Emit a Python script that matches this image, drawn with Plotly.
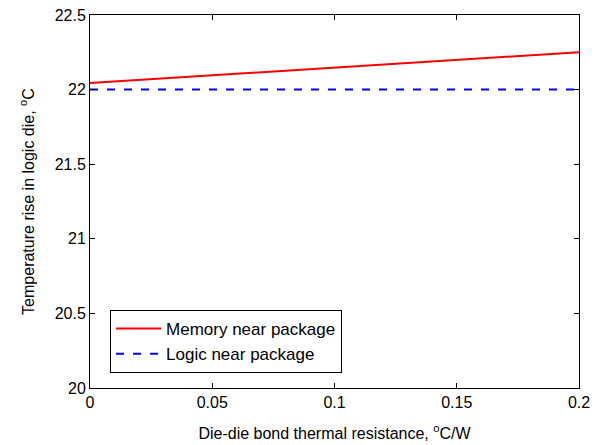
import plotly.graph_objects as go

x_vals = [0.0, 0.02, 0.04, 0.06, 0.08, 0.10, 0.12, 0.14, 0.16, 0.18, 0.20]
memory_near_package = [22.045, 22.065, 22.086, 22.106, 22.127, 22.147, 22.168, 22.188, 22.209, 22.229, 22.25]
logic_near_package = [22.0, 22.0, 22.0, 22.0, 22.0, 22.0, 22.0, 22.0, 22.0, 22.0, 22.0]
x_ticks = [0, 0.05, 0.1, 0.15, 0.2]
x_tick_labels = ["0", "0.05", "0.1", "0.15", "0.2"]
y_ticks = [20, 20.5, 21, 21.5, 22, 22.5]
y_tick_labels = ["20", "20.5", "21", "21.5", "22", "22.5"]

font = "Liberation Sans, Arial, sans-serif"
fs = 16

fig = go.Figure()
fig.add_trace(go.Scatter(x=x_vals, y=memory_near_package, mode="lines",
                         name="Memory near package",
                         line=dict(color="#ff0000", width=2)))
fig.add_trace(go.Scatter(x=x_vals, y=logic_near_package, mode="lines",
                         name="Logic near package",
                         line=dict(color="#0000ff", width=2, dash="8px,9px")))

axis_common = dict(showgrid=False, zeroline=False, showline=True, linecolor="black",
                   linewidth=1, mirror="allticks", ticks="inside", ticklen=5,
                   tickcolor="black", ticklabeloverflow="allow", automargin=False,
                   tickfont=dict(family=font, size=fs, color="black"))

fig.update_layout(
    width=594, height=437,
    margin=dict(l=82, r=23, t=7, b=57),
    paper_bgcolor="white", plot_bgcolor="white",
    font=dict(family=font, size=fs, color="black"),
    showlegend=True,
    legend=dict(x=0.041, y=0.209, xanchor="left", yanchor="top",
                bordercolor="black", borderwidth=1, bgcolor="white",
                font=dict(family=font, size=17, color="black"),
                tracegroupgap=0, itemwidth=45),
    xaxis=dict(range=[0, 0.2], tickvals=x_ticks, ticktext=x_tick_labels,
               title=dict(text="Die-die bond thermal resistance, <sup>o</sup>C/W",
                          font=dict(family=font, size=fs, color="black"), standoff=17),
               **axis_common),
    yaxis=dict(range=[20, 22.5], tickvals=y_ticks, ticktext=y_tick_labels,
               title=dict(text="Temperature rise in logic die, <sup>o</sup>C",
                          font=dict(family=font, size=fs, color="black"), standoff=16),
               **axis_common),
)

fig.write_html("out.html")
